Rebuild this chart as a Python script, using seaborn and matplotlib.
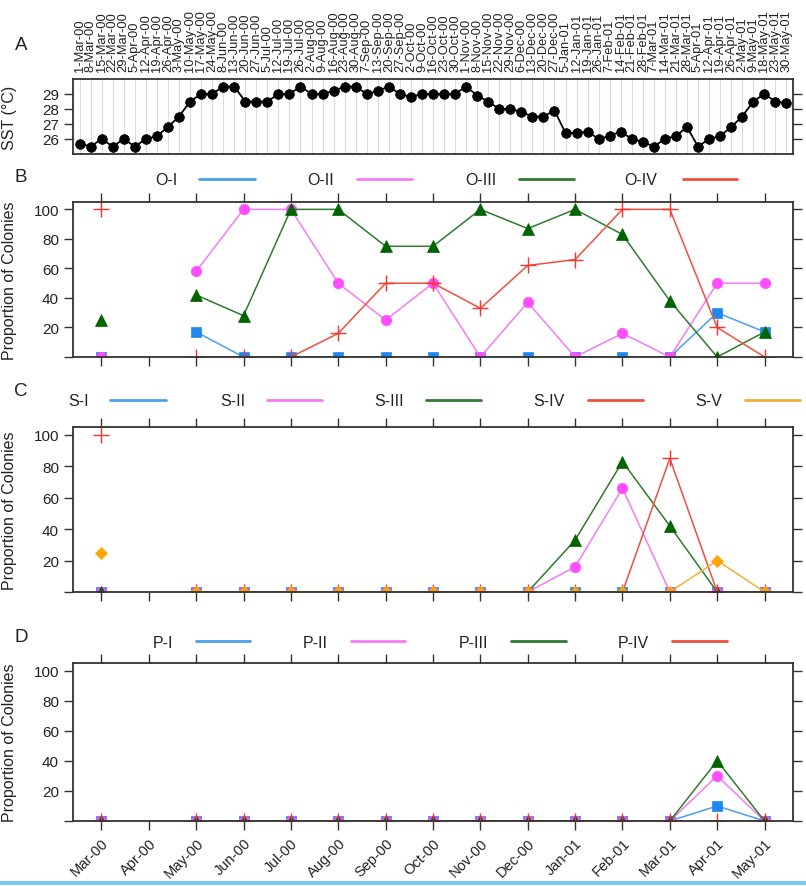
import numpy as np
import pandas as pd
import matplotlib
matplotlib.use("Agg")
import matplotlib.pyplot as plt
from matplotlib.lines import Line2D
import seaborn as sns

# ---------------- data ----------------
sst_dates = ["1-Mar-00", "8-Mar-00", "15-Mar-00", "22-Mar-00", "29-Mar-00",
             "5-Apr-00", "12-Apr-00", "19-Apr-00", "26-Apr-00",
             "3-May-00", "10-May-00", "17-May-00", "24-May-00",
             "8-Jun-00", "13-Jun-00", "20-Jun-00", "27-Jun-00",
             "5-Jul-00", "12-Jul-00", "19-Jul-00", "26-Jul-00",
             "2-Aug-00", "9-Aug-00", "16-Aug-00", "23-Aug-00", "30-Aug-00",
             "7-Sep-00", "13-Sep-00", "20-Sep-00", "27-Sep-00",
             "2-Oct-00", "9-Oct-00", "16-Oct-00", "23-Oct-00", "30-Oct-00",
             "1-Nov-00", "8-Nov-00", "15-Nov-00", "22-Nov-00", "29-Nov-00",
             "6-Dec-00", "13-Dec-00", "20-Dec-00", "27-Dec-00",
             "5-Jan-01", "12-Jan-01", "19-Jan-01", "26-Jan-01",
             "7-Feb-01", "14-Feb-01", "21-Feb-01", "28-Feb-01",
             "7-Mar-01", "14-Mar-01", "21-Mar-01", "28-Mar-01",
             "5-Apr-01", "12-Apr-01", "19-Apr-01", "26-Apr-01",
             "2-May-01", "9-May-01", "18-May-01", "23-May-01", "30-May-01"]
sst_values = [25.7, 25.5, 26.0, 25.5, 26.0, 25.5, 26.0, 26.2, 26.8, 27.5,
              28.5, 29.0, 29.0, 29.5, 29.5, 28.5, 28.5, 28.5, 29.0, 29.0,
              29.5, 29.0, 29.0, 29.2, 29.5, 29.5, 29.0, 29.2, 29.5, 29.0,
              28.8, 29.0, 29.0, 29.0, 29.0, 29.5, 28.9, 28.5, 28.0, 28.0,
              27.8, 27.5, 27.5, 27.9, 26.4, 26.4, 26.5, 26.0, 26.2, 26.5,
              26.0, 25.8, 25.5, 26.0, 26.2, 26.8, 25.5, 26.0, 26.2, 26.8,
              27.5, 28.5, 29.0, 28.5, 28.4]

months = ["Mar-00", "Apr-00", "May-00", "Jun-00", "Jul-00", "Aug-00", "Sep-00",
          "Oct-00", "Nov-00", "Dec-00", "Jan-01", "Feb-01", "Mar-01", "Apr-01", "May-01"]
NA = np.nan
# Panel B
o_I   = [0,   NA, 17,  0,   0,   0,   0,  0,  0,   0,  0,   0,   0,   30, 17]
o_II  = [0,   NA, 58,  100, 100, 50,  25, 50, 0,   37, 0,   16,  0,   50, 50]
o_III = [25,  NA, 42,  28,  100, 100, 75, 75, 100, 87, 100, 83,  38,  0,  17]
o_IV  = [100, NA, 0,   0,   0,   16,  50, 50, 33,  62, 66,  100, 100, 20, 0]
# Panel C
s_I   = [0,   NA, 0, 0, 0, 0, 0, 0, 0, 0, 0,  0,  0,  0,  0]
s_II  = [0,   NA, 0, 0, 0, 0, 0, 0, 0, 0, 16, 66, 0,  0,  0]
s_III = [0,   NA, 0, 0, 0, 0, 0, 0, 0, 0, 33, 83, 42, 0,  0]
s_IV  = [100, NA, 0, 0, 0, 0, 0, 0, 0, 0, 0,  0,  85, 0,  0]
s_V   = [25,  NA, 0, 0, 0, 0, 0, 0, 0, 0, 0,  0,  0,  20, 0]
# Panel D
p_I   = [0, NA, 0, 0, 0, 0, 0, 0, 0, 0, 0, 0, 0, 10, 0]
p_II  = [0, NA, 0, 0, 0, 0, 0, 0, 0, 0, 0, 0, 0, 30, 0]
p_III = [0, NA, 0, 0, 0, 0, 0, 0, 0, 0, 0, 0, 0, 40, 0]
p_IV  = [0, NA, 0, 0, 0, 0, 0, 0, 0, 0, 0, 0, 0, 0,  0]

# ---------------- style ----------------
sns.set_style("ticks")
plt.rcParams["font.family"] = ["Liberation Sans", "DejaVu Sans"]
TXT = "#222222"
FRAME = "#333333"

W, H = 806, 887
fig = plt.figure(figsize=(W / 100, H / 100), dpi=100)


def fx(x):
    return x / W


def fy(y):
    return 1 - y / H


def make_ax(top, bottom, left=73, right=793):
    return fig.add_axes([fx(left), fy(bottom), (right - left) / W, (bottom - top) / H])


def style_frame(ax):
    for s in ax.spines.values():
        s.set_visible(True)
        s.set_color(FRAME)
        s.set_linewidth(1.3)


# series styles: (marker colour, line colour, marker, size, edge width)
STY = {
    "I":   ("#1E88F0", "#4AA0EE", "s", 7.0, 0.5),
    "II":  ("#FF4DFF", "#F47CF4", "o", 7.5, 0.5),
    "III": ("#006400", "#2F7A2F", "^", 8.5, 0.5),
    "IV":  ("#FF3030", "#EE5040", "+", 11.0, 1.0),
    "V":   ("#FFA500", "#F2B03A", "D", 6.5, 0.5),
}

xpos = list(range(len(months)))
seg = [0] + [1] * (len(months) - 1)


def draw_series(ax, vals, key, z):
    mc, lc, mk, ms, mew = STY[key]
    df = pd.DataFrame({"x": xpos, "y": vals, "seg": seg}).dropna()
    sns.lineplot(data=df, x="x", y="y", units="seg", estimator=None, sort=False,
                 ax=ax, color=lc, linewidth=1.1, marker=mk, markersize=ms,
                 markerfacecolor=mc, markeredgecolor=mc, markeredgewidth=mew,
                 legend=False, zorder=z)


def month_panel(ax, series, show_xlabels=False):
    for i, (vals, key) in enumerate(series):
        draw_series(ax, vals, key, 2 + i * 0.1)
    style_frame(ax)
    ax.set_xlim(-0.6, 14.6)
    ax.set_ylim(0, 105)
    ax.set_xticks(xpos)
    if show_xlabels:
        ax.set_xticklabels(months, rotation=45, ha="right", rotation_mode="anchor",
                           fontsize=10.5, color=TXT)
    else:
        ax.set_xticklabels([])
    ax.set_yticks([0, 20, 40, 60, 80, 100])
    ax.set_yticklabels(["", "20", "40", "60", "80", "100"], fontsize=11, color=TXT)
    ax.tick_params(axis="both", direction="out", length=6.5, width=1.0, color=FRAME,
                   top=True, right=True, bottom=True, left=True,
                   labeltop=False, labelright=False)
    ax.tick_params(axis="x", pad=4)
    ax.set_xlabel("")
    ax.set_ylabel("")


def legend_row(entries, y):
    # entries: (label, text_right_px, line_x0_px, line_x1_px, key)
    for lab, tx, x0, x1, key in entries:
        fig.text(fx(tx), fy(y), lab, ha="right", va="center", fontsize=11.5, color=TXT)
        fig.add_artist(Line2D([fx(x0), fx(x1)], [fy(y - 1), fy(y - 1)],
                              color=STY[key][1], linewidth=2.0,
                              transform=fig.transFigure))


# ---------------- Panel A ----------------
axA = make_ax(80, 155)
sns.lineplot(x=list(range(len(sst_values))), y=sst_values, ax=axA, color="black",
             linewidth=1.3, marker="o", markersize=7, markeredgecolor="black",
             markerfacecolor="black", markeredgewidth=0.5)
style_frame(axA)
axA.set_xlim(-0.6, len(sst_values) - 0.4)
axA.set_ylim(25, 30)
axA.set_xticks(range(len(sst_dates)))
axA.set_xticklabels(sst_dates, rotation=90, fontsize=9.3, color=TXT)
axA.xaxis.tick_top()
axA.tick_params(axis="x", length=0, pad=6, top=True, bottom=False)
axA.grid(axis="x", color="#dcdcdc", linewidth=0.8)
axA.set_axisbelow(True)
axA.set_yticks([26, 27, 28, 29])
axA.set_yticklabels(["26", "27", "28", "29"], fontsize=11, color=TXT)
axA.tick_params(axis="y", direction="out", length=6.5, width=1.0, color=FRAME,
                left=True, right=True, labelright=False)
axA.set_xlabel("")
axA.set_ylabel("")

# ---------------- Panel B ----------------
axB = make_ax(203, 358)
month_panel(axB, [(o_I, "I"), (o_II, "II"), (o_III, "III"), (o_IV, "IV")])
legend_row([("O-I", 178, 199, 255, "I"), ("O-II", 334, 357, 412, "II"),
            ("O-III", 496, 519, 574, "III"), ("O-IV", 657, 683, 737, "IV")], 181)

# ---------------- Panel C ----------------
axC = make_ax(428, 593)
month_panel(axC, [(s_I, "I"), (s_II, "II"), (s_III, "III"), (s_IV, "IV"), (s_V, "V")])
legend_row([("S-I", 89, 110, 166, "I"), ("S-II", 245, 267, 322, "II"),
            ("S-III", 404, 426, 481, "III"), ("S-IV", 565, 588, 643, "IV"),
            ("S-V", 722, 745, 800, "V")], 402)

# ---------------- Panel D ----------------
axD = make_ax(664, 822)
month_panel(axD, [(p_I, "I"), (p_II, "II"), (p_III, "III"), (p_IV, "IV")],
            show_xlabels=True)
legend_row([("P-I", 173, 196, 250, "I"), ("P-II", 328, 351, 405, "II"),
            ("P-III", 488, 511, 566, "III"), ("P-IV", 649, 672, 727, "IV")], 643)

# ---------------- labels ----------------
for lab, y in [("A", 45), ("B", 177), ("C", 392), ("D", 637)]:
    fig.text(fx(21), fy(y), lab, ha="center", va="center", fontsize=13.5, color=TXT)

fig.text(fx(2), fy(118), "SST (°C)", rotation=90, ha="left", va="center",
         fontsize=11.5, color=TXT)
for top, bot in [(203, 358), (428, 593), (664, 822)]:
    fig.text(fx(2), fy((top + bot) / 2), "Proportion of Colonies", rotation=90,
             ha="left", va="center", fontsize=11.5, color=TXT)

# thin blue rule at the bottom as in the reference
fig.add_artist(Line2D([0, 1], [fy(884), fy(884)], color="#7EC8F0", linewidth=3,
                      transform=fig.transFigure))

fig.savefig("out.png", dpi=100)
